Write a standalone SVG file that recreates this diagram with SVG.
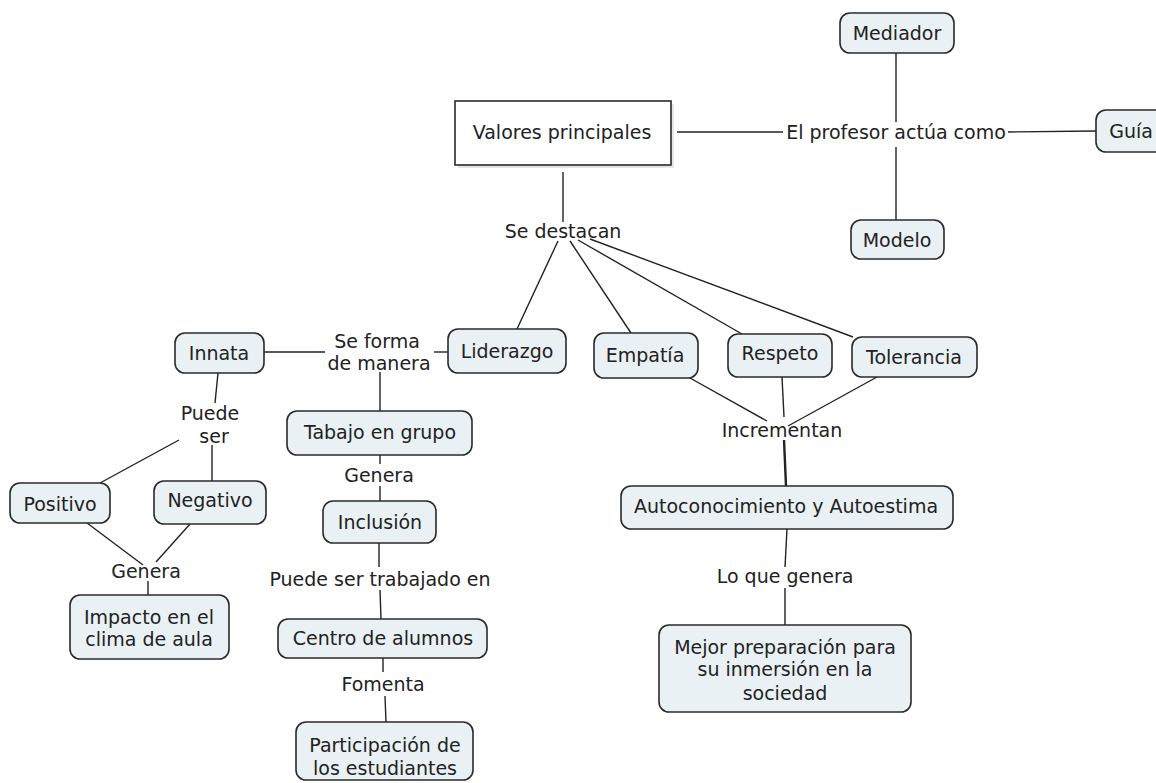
<svg xmlns="http://www.w3.org/2000/svg" width="1156" height="783" viewBox="0 0 1156 783">
<style>
.n{fill:#e9f1f4;stroke:#2a2a2a;stroke-width:1.6}
.t{font-family:"DejaVu Sans",Verdana,sans-serif;font-size:19px;fill:#222;text-anchor:middle}
.c line{stroke:#222;stroke-width:1.4}
</style>
<rect width="1156" height="783" fill="#fff"/>
<g class="c" id="connectors">
<line x1="677" y1="132" x2="783" y2="132"/>
<line x1="1008" y1="132" x2="1096" y2="131"/>
<line x1="896" y1="53" x2="896" y2="122"/>
<line x1="896" y1="147" x2="896" y2="220"/>
<line x1="563" y1="172" x2="563" y2="222"/>
<line x1="558" y1="241" x2="517" y2="329"/>
<line x1="570" y1="241" x2="631" y2="333"/>
<line x1="578" y1="240" x2="742" y2="334"/>
<line x1="590" y1="239" x2="853" y2="337"/>
<line x1="448" y1="352" x2="434" y2="352"/>
<line x1="325" y1="352" x2="264" y2="352"/>
<line x1="380" y1="372" x2="380" y2="411"/>
<line x1="218" y1="373" x2="215" y2="403"/>
<line x1="179" y1="440" x2="100" y2="483"/>
<line x1="212" y1="445" x2="212" y2="481"/>
<line x1="87" y1="523" x2="143" y2="565"/>
<line x1="190" y1="524" x2="156" y2="562"/>
<line x1="148" y1="581" x2="148" y2="595"/>
<line x1="380" y1="455" x2="380" y2="464"/>
<line x1="380" y1="486" x2="380" y2="501"/>
<line x1="379" y1="543" x2="379" y2="567"/>
<line x1="380" y1="590" x2="381" y2="619"/>
<line x1="383" y1="658" x2="383" y2="672"/>
<line x1="385" y1="696" x2="386" y2="722"/>
<line x1="690" y1="378" x2="767" y2="421"/>
<line x1="782" y1="377" x2="784" y2="417"/>
<line x1="877" y1="377" x2="788" y2="426"/>
<line x1="784" y1="440" x2="786" y2="486" style="stroke-width:2.4"/>
<line x1="787" y1="529" x2="785" y2="567"/>
<line x1="785" y1="588" x2="785" y2="625"/>
</g>
<g id="valores">
<rect x="458" y="104" width="216" height="64" fill="#e6e6e6"/>
<rect x="455" y="101" width="216" height="64" fill="#fff" stroke="#2a2a2a" stroke-width="1.6"/>
<text class="t" x="562" y="139">Valores principales</text>
</g>
<g id="lbl-profesor"><text class="t" x="896" y="139">El profesor actúa como</text></g>
<g id="mediador"><rect class="n" x="840" y="13" width="114" height="40" rx="10"/><text class="t" x="897" y="40">Mediador</text></g>
<g id="guia"><rect class="n" x="1096" y="110" width="80" height="42" rx="10"/><text class="t" x="1153" y="138" style="text-anchor:end">Guía</text></g>
<g id="modelo"><rect class="n" x="851" y="220" width="93" height="39" rx="10"/><text class="t" x="897" y="247">Modelo</text></g>
<g id="lbl-destacan"><text class="t" x="563" y="238">Se destacan</text></g>
<g id="liderazgo"><rect class="n" x="448" y="329" width="118" height="44" rx="10"/><text class="t" x="507" y="358">Liderazgo</text></g>
<g id="empatia"><rect class="n" x="594" y="333" width="104" height="45" rx="10"/><text class="t" x="645" y="362">Empatía</text></g>
<g id="respeto"><rect class="n" x="728" y="334" width="104" height="43" rx="10"/><text class="t" x="780" y="360">Respeto</text></g>
<g id="tolerancia"><rect class="n" x="852" y="337" width="125" height="40" rx="10"/><text class="t" x="914" y="364">Tolerancia</text></g>
<g id="lbl-forma"><text class="t" x="377" y="348">Se forma</text><text class="t" x="379" y="370">de manera</text></g>
<g id="innata"><rect class="n" x="175" y="333" width="89" height="40" rx="10"/><text class="t" x="219" y="360">Innata</text></g>
<g id="lbl-puede"><text class="t" x="210" y="420">Puede</text><text class="t" x="214" y="443">ser</text></g>
<g id="positivo"><rect class="n" x="10" y="483" width="100" height="40" rx="10"/><text class="t" x="60" y="511">Positivo</text></g>
<g id="negativo"><rect class="n" x="154" y="481" width="112" height="43" rx="10"/><text class="t" x="210" y="507">Negativo</text></g>
<g id="lbl-genera1"><text class="t" x="146" y="578">Genera</text></g>
<g id="impacto"><rect class="n" x="70" y="595" width="159" height="64" rx="10"/><text class="t" x="149" y="624">Impacto en el</text><text class="t" x="149" y="646">clima de aula</text></g>
<g id="tabajo"><rect class="n" x="287" y="411" width="185" height="44" rx="10"/><text class="t" x="380" y="439">Tabajo en grupo</text></g>
<g id="lbl-genera2"><text class="t" x="379" y="482">Genera</text></g>
<g id="inclusion"><rect class="n" x="323" y="501" width="113" height="42" rx="10"/><text class="t" x="380" y="529">Inclusión</text></g>
<g id="lbl-trabajado"><text class="t" x="380" y="586">Puede ser trabajado en</text></g>
<g id="centro"><rect class="n" x="278" y="619" width="209" height="39" rx="10"/><text class="t" x="383" y="645">Centro de alumnos</text></g>
<g id="lbl-fomenta"><text class="t" x="383" y="691">Fomenta</text></g>
<g id="participacion"><rect class="n" x="296" y="722" width="177" height="58" rx="10"/><text class="t" x="385" y="752">Participación de</text><text class="t" x="385" y="775">los estudiantes</text></g>
<g id="lbl-incrementan"><text class="t" x="782" y="437">Incrementan</text></g>
<g id="auto"><rect class="n" x="621" y="486" width="332" height="43" rx="10"/><text class="t" x="786" y="513">Autoconocimiento y Autoestima</text></g>
<g id="lbl-logenera"><text class="t" x="785" y="583">Lo que genera</text></g>
<g id="mejor"><rect class="n" x="659" y="625" width="252" height="87" rx="10"/><text class="t" x="785" y="654">Mejor preparación para</text><text class="t" x="785" y="676">su inmersión en la</text><text class="t" x="785" y="700">sociedad</text></g>
</svg>
